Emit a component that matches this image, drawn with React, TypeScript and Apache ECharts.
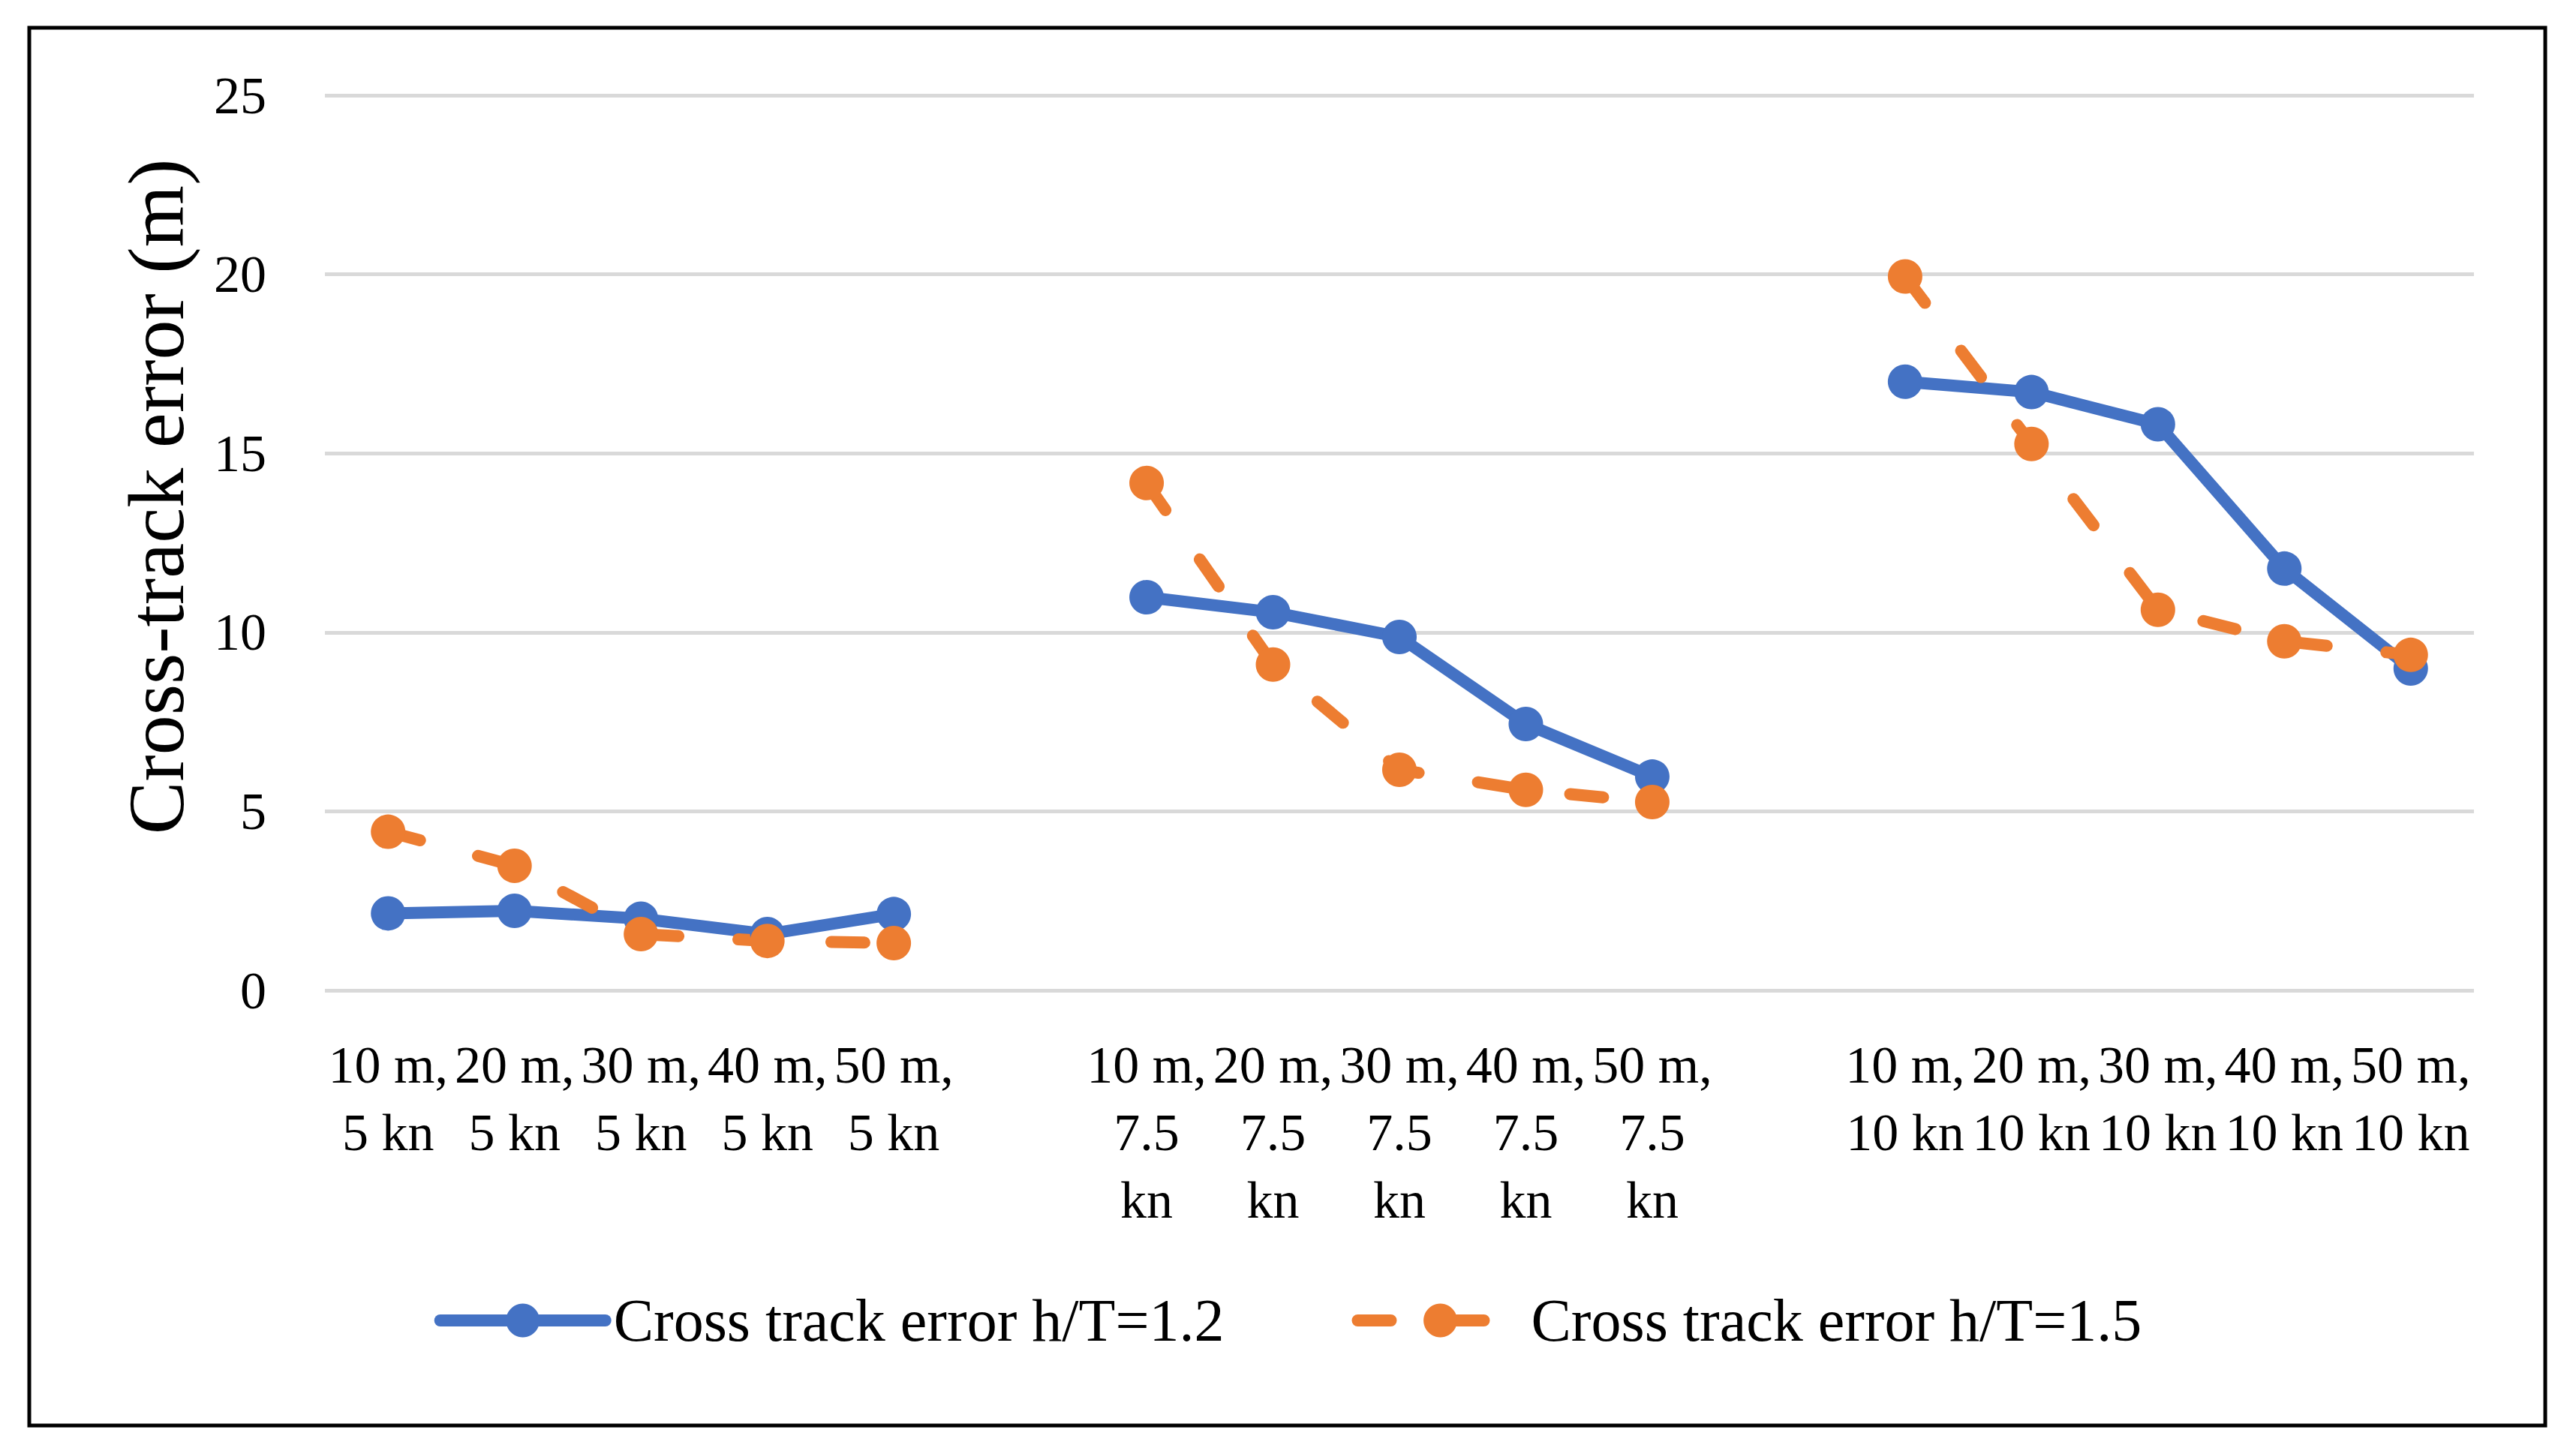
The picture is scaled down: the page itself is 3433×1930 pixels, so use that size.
import { useEffect, useRef } from "react";
import * as echarts from "echarts";

const categories = [
  "10 m,\n5 kn", "20 m,\n5 kn", "30 m,\n5 kn", "40 m,\n5 kn", "50 m,\n5 kn",
  "",
  "10 m,\n7.5\nkn", "20 m,\n7.5\nkn", "30 m,\n7.5\nkn", "40 m,\n7.5\nkn", "50 m,\n7.5\nkn",
  "",
  "10 m,\n10 kn", "20 m,\n10 kn", "30 m,\n10 kn", "40 m,\n10 kn", "50 m,\n10 kn",
];

const errorHT12 = [2.15, 2.22, 2.0, 1.57, 2.13, null, 10.98, 10.56, 9.87, 7.44, 5.97, null, 17.0, 16.71, 15.81, 11.78, 8.99];
const errorHT15 = [4.43, 3.48, 1.57, 1.38, 1.32, null, 14.17, 9.1, 6.16, 5.6, 5.26, null, 19.94, 15.26, 10.63, 9.75, 9.37];

const seriesNames = ["Cross track error h/T=1.2", "Cross track error h/T=1.5"];
const yTitle = "Cross-track error (m)";

const FONT = "'Liberation Serif', 'Times New Roman', serif";

export default function App() {
  const chartRef = useRef<HTMLDivElement>(null);

  useEffect(() => {
    if (!chartRef.current) return;
    const chart = echarts.init(chartRef.current, undefined, { renderer: "svg" });

    const option: echarts.EChartsOption = {
      animation: false,
      backgroundColor: "#fff",
      textStyle: { fontFamily: FONT, color: "#000" },
      graphic: [
        {
          type: "rect",
          shape: { x: 31, y: 29, width: 3353, height: 1863 },
          style: { fill: "none", stroke: "#000", lineWidth: 5 },
          silent: true,
        },
        {
          type: "text",
          x: 200,
          y: 654,
          rotation: Math.PI / 2,
          style: {
            text: yTitle,
            font: `106px ${FONT}`,
            fill: "#000",
            align: "center",
            verticalAlign: "middle",
          },
        },
      ],
      grid: { left: 425, right: 128, top: 119, bottom: 602 },
      xAxis: {
        type: "category",
        data: categories,
        boundaryGap: true,
        axisLine: { show: false },
        axisTick: { show: false },
        axisLabel: {
          interval: 0,
          margin: 54,
          fontSize: 70,
          lineHeight: 90,
          color: "#000",
          fontFamily: FONT,
        },
      },
      yAxis: {
        type: "value",
        min: 0,
        max: 25,
        interval: 5,
        axisLine: { show: false },
        axisTick: { show: false },
        axisLabel: { margin: 78, fontSize: 70, color: "#000", fontFamily: FONT },
        splitLine: { lineStyle: { color: "#D9D9D9", width: 5 } },
      },
      legend: {
        left: "center",
        top: 1707,
        itemWidth: 220,
        itemHeight: 56,
        itemGap: 170,
        lineStyle: { width: 16 },
        textStyle: { fontSize: 80, color: "#000", fontFamily: FONT, padding: [0, 0, 0, 6] },
        data: seriesNames,
      },
      series: [
        {
          name: seriesNames[0],
          type: "line",
          data: errorHT12,
          connectNulls: false,
          symbol: "circle",
          symbolSize: 46,
          showAllSymbol: true,
          itemStyle: { color: "#4472C4" },
          lineStyle: { color: "#4472C4", width: 16, cap: "round", join: "round" },
        },
        {
          name: seriesNames[1],
          type: "line",
          data: errorHT15,
          connectNulls: false,
          symbol: "circle",
          symbolSize: 46,
          showAllSymbol: true,
          itemStyle: { color: "#ED7D31" },
          lineStyle: {
            color: "#ED7D31",
            width: 16,
            type: [44, 80],
            cap: "round",
            join: "round",
          },
        },
      ],
    };

    chart.setOption(option);
    return () => {
      chart.dispose();
    };
  }, []);

  return <div ref={chartRef} style={{ width: "3417px", height: "1914px" }} />;
}
